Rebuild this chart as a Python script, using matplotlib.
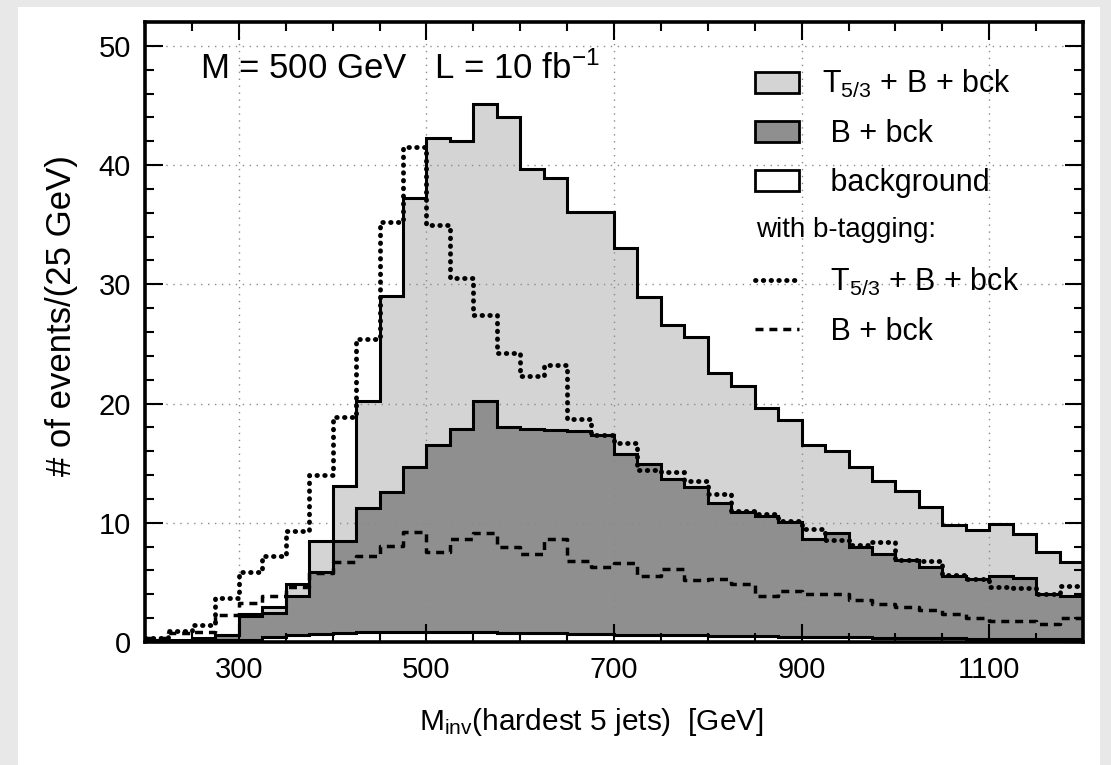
import numpy as np
import matplotlib
matplotlib.use('Agg')
import matplotlib.pyplot as plt
from matplotlib.patches import Patch, Rectangle
from matplotlib.lines import Line2D
from matplotlib.ticker import MultipleLocator

plt.rcParams['font.family'] = ['Liberation Sans', 'DejaVu Sans']
plt.rcParams['mathtext.fontset'] = 'custom'
plt.rcParams['mathtext.rm'] = 'Liberation Sans'
plt.rcParams['mathtext.it'] = 'Liberation Sans:italic'

# bin edges, 25 GeV bins from 200 to 1200
edges = np.arange(200, 1201, 25)

# T5/3 + B + bck (light gray)
total = [0.2, 0.2, 0.3, 0.6, 2.35, 2.95, 4.85, 8.45, 13.1, 20.25,
         29.05, 37.2, 42.3, 42.0, 45.1, 44.0, 39.7, 38.9, 36.05, 36.1,
         33.05, 28.9, 26.55, 25.6, 22.6, 21.45, 19.6, 18.6, 16.5, 16.0,
         14.7, 13.5, 12.7, 11.3, 9.85, 9.4, 9.9, 9.1, 7.55, 6.7]

# B + bck (dark gray)
b_bck = [0.1, 0.1, 0.2, 0.55, 2.15, 2.45, 3.85, 5.9, 8.45, 11.2,
         12.6, 14.7, 16.55, 17.85, 20.25, 18.0, 17.9, 17.8, 17.7, 17.4,
         15.8, 14.9, 13.7, 13.0, 11.7, 10.9, 10.6, 10.1, 8.6, 9.15,
         8.0, 7.4, 6.85, 6.25, 5.5, 5.25, 5.5, 5.4, 4.0, 3.9]

# background only (white)
bck = [0.05, 0.05, 0.1, 0.15, 0.2, 0.45, 0.55, 0.7, 0.75, 0.82,
       0.85, 0.85, 0.85, 0.82, 0.8, 0.78, 0.75, 0.72, 0.7, 0.68,
       0.62, 0.6, 0.57, 0.55, 0.52, 0.5, 0.48, 0.45, 0.43, 0.4,
       0.38, 0.36, 0.34, 0.32, 0.3, 0.28, 0.27, 0.26, 0.25, 0.24]

# with b-tagging: T5/3 + B + bck (dotted)
total_btag = [0.35, 0.9, 1.45, 3.7, 5.9, 7.2, 9.3, 14.0, 18.9, 25.4,
              35.2, 41.5, 35.0, 30.5, 27.45, 24.2, 22.3, 23.2, 18.7, 17.4,
              16.7, 14.4, 14.3, 13.5, 12.4, 11.0, 10.7, 10.15, 9.5, 8.55,
              8.15, 8.35, 6.9, 6.8, 5.65, 5.25, 4.6, 4.5, 4.0, 4.7]

# with b-tagging: B + bck (dashed)
b_bck_btag = [0.3, 0.75, 0.85, 2.3, 3.3, 3.9, 4.6, 5.8, 6.7, 7.2,
              8.05, 9.2, 7.55, 8.6, 9.15, 8.0, 7.4, 8.6, 6.8, 6.3,
              6.6, 5.5, 6.1, 5.2, 5.3, 4.9, 3.9, 4.3, 4.05, 4.0,
              3.5, 3.2, 2.95, 2.65, 2.35, 2.05, 1.75, 1.8, 1.55, 2.05]

light = '#d4d4d4'
dark = '#8f8f8f'
dotted = (0, (0.1, 1.5))
dashed = (0, (2.3, 1.7))

fig = plt.figure(figsize=(11.11, 7.65), dpi=100)
fig.patch.set_facecolor('#e8e8e8')
fig.add_artist(Rectangle((18 / 1111, 0), 1082 / 1111, 758 / 765,
                         transform=fig.transFigure, facecolor='white',
                         edgecolor='none', zorder=-10))

ax = fig.add_axes([145 / 1111, 123 / 765, 938 / 1111, 620 / 765])

# filled histograms
for vals, col in [(total, light), (b_bck, dark), (bck, 'white')]:
    ax.stairs(vals, edges, fill=True, facecolor=col, edgecolor='none', zorder=1)
    ax.stairs(vals, edges, baseline=None, color='black', lw=2.2, zorder=3)

# b-tagging lines
ax.plot(edges, np.append(total_btag, total_btag[-1]), drawstyle='steps-post',
        color='black', lw=3.5, linestyle=dotted,
        dash_capstyle='round', zorder=4)
ax.plot(edges, np.append(b_bck_btag, b_bck_btag[-1]), drawstyle='steps-post',
        color='black', lw=2.5, linestyle=dashed, zorder=4)

ax.set_xlim(200, 1200)
ax.set_ylim(0, 52)
ax.set_xticks([300, 500, 700, 900, 1100])
ax.xaxis.set_minor_locator(MultipleLocator(50))
ax.yaxis.set_major_locator(MultipleLocator(10))
ax.yaxis.set_minor_locator(MultipleLocator(2))
ax.tick_params(which='both', direction='in', top=True, right=True,
               labelsize=21, width=1.5)
ax.tick_params(which='major', length=13, pad=10)
ax.tick_params(which='minor', length=6.5)
for s in ax.spines.values():
    s.set_linewidth(2.6)
    s.set_zorder(6)

ax.grid(True, which='major', color='#8a8a8a', linestyle=(0, (1, 4)), lw=1.0)
ax.set_axisbelow(False)
for gl in ax.get_xgridlines() + ax.get_ygridlines():
    gl.set_zorder(2)

ax.text(0.0586, 0.925, 'M = 500 GeV   L = 10 fb$^{-1}$', transform=ax.transAxes,
        fontsize=25, va='center', ha='left')

fig.text(591 / 1111, 1 - 722 / 765, r'M$_{\mathrm{inv}}$(hardest 5 jets)  [GeV]',
         fontsize=21.5, ha='center', va='center')
fig.text(62 / 1111, 1 - 316 / 765, '# of events/(25 GeV)', fontsize=25,
         rotation=90, ha='center', va='center')

handles = [Patch(facecolor=light, edgecolor='black', lw=2),
           Patch(facecolor=dark, edgecolor='black', lw=2),
           Patch(facecolor='white', edgecolor='black', lw=2),
           Line2D([], [], color='none'),
           Line2D([], [], color='black', lw=3.5, linestyle=dotted,
                  dash_capstyle='round'),
           Line2D([], [], color='black', lw=2.5, linestyle=dashed)]
labels = ['T$_{5/3}$ + B + bck', ' B + bck', ' background', '',
          ' T$_{5/3}$ + B + bck', ' B + bck']
leg = ax.legend(handles, labels, loc='upper left',
                bbox_to_anchor=((755 - 145) / 938, (642 - 68) / 620),
                frameon=False, fontsize=22, handlelength=1.45,
                handleheight=0.7, handletextpad=0.75, labelspacing=0.62,
                borderaxespad=0, borderpad=0)
leg.set_zorder(7)
ax.text((756 - 145) / 938, (642 - 230) / 620, 'with b-tagging:',
        transform=ax.transAxes, fontsize=20, va='center', ha='left', zorder=7)

fig.savefig('out.png', dpi=100, facecolor=fig.get_facecolor())
